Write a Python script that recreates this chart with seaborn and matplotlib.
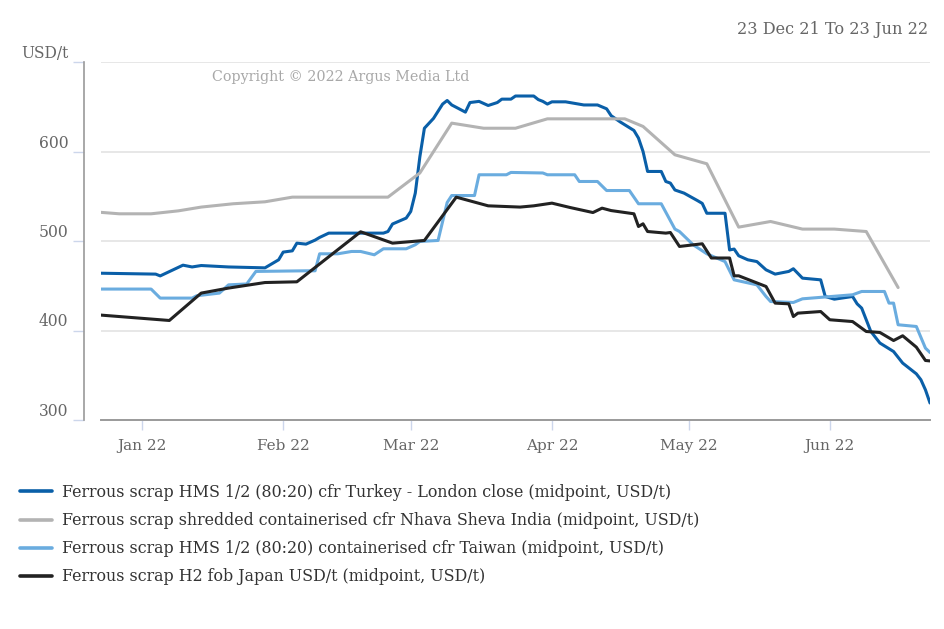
import matplotlib
matplotlib.use("Agg")
import matplotlib.pyplot as plt
import matplotlib.dates as mdates
from matplotlib.lines import Line2D
import seaborn as sns
import pandas as pd

# ---------------- data ----------------
turkey_dates = ["2021-12-23", "2022-01-04", "2022-01-05", "2022-01-10", "2022-01-12", "2022-01-14",
                "2022-01-20", "2022-01-28", "2022-01-31", "2022-02-01", "2022-02-03", "2022-02-04",
                "2022-02-06", "2022-02-08", "2022-02-09", "2022-02-11", "2022-02-23", "2022-02-24",
                "2022-02-25", "2022-02-28", "2022-03-01", "2022-03-02", "2022-03-03", "2022-03-04",
                "2022-03-06", "2022-03-08", "2022-03-09", "2022-03-10", "2022-03-13", "2022-03-14",
                "2022-03-16", "2022-03-18", "2022-03-20", "2022-03-21", "2022-03-23", "2022-03-24",
                "2022-03-28", "2022-03-29", "2022-03-30", "2022-03-31", "2022-04-01", "2022-04-04",
                "2022-04-08", "2022-04-11", "2022-04-13", "2022-04-14", "2022-04-16", "2022-04-19",
                "2022-04-20", "2022-04-21", "2022-04-22", "2022-04-25", "2022-04-26", "2022-04-27",
                "2022-04-28", "2022-04-30", "2022-05-03", "2022-05-04", "2022-05-05", "2022-05-09",
                "2022-05-10", "2022-05-11", "2022-05-12", "2022-05-14", "2022-05-16", "2022-05-18",
                "2022-05-20", "2022-05-23", "2022-05-24", "2022-05-26", "2022-05-30", "2022-05-31",
                "2022-06-02", "2022-06-06", "2022-06-07", "2022-06-08", "2022-06-09", "2022-06-10",
                "2022-06-12", "2022-06-15", "2022-06-17", "2022-06-20", "2022-06-21", "2022-06-22",
                "2022-06-23"]
turkey_vals = [464, 463, 461, 473, 471, 472.6,
               471, 470, 479, 487.6, 489, 497.6,
               496.5, 501, 504, 508.8, 508.8, 510.6,
               519, 525.6, 533, 553.5, 594, 626,
               637, 653, 657, 652, 644, 654.7,
               656, 651.4, 654.7, 658.5, 658.5, 662,
               662, 658, 656, 653, 655.5, 655.5,
               652, 652, 647.7, 640, 633, 623.5,
               615, 600, 577.7, 577.7, 566.5, 564.7,
               557, 553.5, 545, 542, 531, 531,
               490, 491, 483.5, 479, 477, 467.8,
               463, 466, 469, 458.5, 456.6, 438,
               435, 438, 429.8, 425, 412, 399,
               386, 376.5, 363.6, 351.6, 345, 333.7,
               319]

india_dates = ["2021-12-23", "2021-12-27", "2022-01-03", "2022-01-09", "2022-01-14", "2022-01-21",
               "2022-01-28", "2022-02-03", "2022-02-24", "2022-03-03", "2022-03-10", "2022-03-17",
               "2022-03-24", "2022-03-31", "2022-04-17", "2022-04-21", "2022-04-28", "2022-05-05",
               "2022-05-12", "2022-05-19", "2022-05-26", "2022-06-02", "2022-06-09", "2022-06-16"]
india_vals = [532, 530.4, 530.4, 533.7, 537.9, 541.6,
              543.8, 549, 549, 576, 631.7, 626,
              626, 636.5, 636.5, 628, 596.3, 586.3,
              515.5, 521.8, 513.3, 513.3, 510.6, 448]

taiwan_dates = ["2021-12-23", "2022-01-03", "2022-01-05", "2022-01-12", "2022-01-13", "2022-01-18",
                "2022-01-20", "2022-01-24", "2022-01-26", "2022-02-06", "2022-02-08", "2022-02-09",
                "2022-02-13", "2022-02-16", "2022-02-18", "2022-02-21", "2022-02-23", "2022-02-28",
                "2022-03-02", "2022-03-03", "2022-03-07", "2022-03-09", "2022-03-10", "2022-03-15",
                "2022-03-16", "2022-03-22", "2022-03-23", "2022-03-30", "2022-03-31", "2022-04-06",
                "2022-04-07", "2022-04-11", "2022-04-13", "2022-04-18", "2022-04-20", "2022-04-25",
                "2022-04-28", "2022-04-29", "2022-05-02", "2022-05-05", "2022-05-09", "2022-05-11",
                "2022-05-16", "2022-05-18", "2022-05-19", "2022-05-24", "2022-05-26", "2022-06-06",
                "2022-06-08", "2022-06-13", "2022-06-14", "2022-06-15", "2022-06-16", "2022-06-20",
                "2022-06-22", "2022-06-23"]
taiwan_vals = [446.3, 446.3, 436.2, 436.2, 438.8, 441.8,
               451, 452, 466, 466.7, 466.7, 485.7,
               485.7, 488.3, 488.3, 484.6, 491.3, 491.3,
               495.8, 499.5, 500.6, 543, 550.8, 550.8,
               574, 574, 576.6, 576, 574, 574,
               566.5, 566.5, 556.4, 556.4, 541.6, 541.6,
               513.3, 510.6, 495.8, 485.7, 477, 456.6,
               451, 438, 432.4, 431.3, 435.4, 439.9,
               443.6, 443.6, 430.6, 430.6, 406.4, 404.5,
               380.3, 375.4]

japan_dates = ["2021-12-23", "2022-01-07", "2022-01-14", "2022-01-20", "2022-01-28", "2022-02-04",
               "2022-02-18", "2022-02-25", "2022-03-04", "2022-03-11", "2022-03-18", "2022-03-25",
               "2022-03-28", "2022-04-01", "2022-04-05", "2022-04-10", "2022-04-12", "2022-04-14",
               "2022-04-19", "2022-04-20", "2022-04-21", "2022-04-22", "2022-04-26", "2022-04-27",
               "2022-04-29", "2022-05-04", "2022-05-06", "2022-05-10", "2022-05-11", "2022-05-12",
               "2022-05-18", "2022-05-20", "2022-05-23", "2022-05-24", "2022-05-25", "2022-05-30",
               "2022-06-01", "2022-06-06", "2022-06-09", "2022-06-12", "2022-06-15", "2022-06-17",
               "2022-06-20", "2022-06-22", "2022-06-23"]
japan_vals = [417.2, 411.2, 441.8, 447.4, 453.6, 454.4,
              510.3, 497.6, 500.6, 549, 539.3, 537.9,
              539.3, 542.3, 537.4, 531.8, 536.7, 534,
              530.4, 516.2, 519.2, 510.6, 508.8, 509.5,
              493.9, 496.9, 481, 481, 461.1, 461.1,
              449.2, 430.6, 429.8, 415.6, 419.4, 421.2,
              412, 410, 398.9, 397.8, 388.8, 394.1,
              381.4, 366.5, 366]

series_names = [
    "Ferrous scrap HMS 1/2 (80:20) cfr Turkey - London close (midpoint, USD/t)",
    "Ferrous scrap shredded containerised cfr Nhava Sheva India (midpoint, USD/t)",
    "Ferrous scrap HMS 1/2 (80:20) containerised cfr Taiwan (midpoint, USD/t)",
    "Ferrous scrap H2 fob Japan USD/t (midpoint, USD/t)",
]
y_ticks = [300, 400, 500, 600, 700]
y_tick_labels = ["300", "400", "500", "600", "USD/t"]
month_ticks = ["2022-01-01", "2022-02-01", "2022-03-01", "2022-04-01", "2022-05-01", "2022-06-01"]
title_text = "23 Dec 21 To 23 Jun 22"
copyright_text = "Copyright \u00a9 2022 Argus Media Ltd"

colors = ["#0a5fa8", "#b3b3b3", "#6aacdf", "#222222"]

# ---------------- build frame ----------------
frames = []
for name, d, v in zip(series_names,
                      [turkey_dates, india_dates, taiwan_dates, japan_dates],
                      [turkey_vals, india_vals, taiwan_vals, japan_vals]):
    frames.append(pd.DataFrame({"date": pd.to_datetime(d), "value": v, "series": name}))
df = pd.concat(frames, ignore_index=True)

# ---------------- plot ----------------
sns.set_style("white")
plt.rcParams["font.family"] = ["DejaVu Serif"]

fig = plt.figure(figsize=(9.45, 6.29), dpi=100)
ax = fig.add_axes([101 / 945, (629 - 420) / 629, 829 / 945, 358 / 629])

sns.lineplot(data=df, x="date", y="value", hue="series", hue_order=series_names,
             palette=colors, estimator=None, linewidth=2.2, ax=ax, legend=False)

ax.set_xlim(pd.Timestamp("2021-12-23"), pd.Timestamp("2022-06-23"))
ax.set_ylim(300, 700)
ax.set_xlabel("")
ax.set_ylabel("")

# grid
for yv in y_ticks[1:]:
    ax.axhline(yv, color="#e0e0e0", lw=1.1, zorder=0)

# spines
for s in ["top", "right"]:
    ax.spines[s].set_visible(False)
ax.spines["bottom"].set_color("#9a9a9a")
ax.spines["bottom"].set_linewidth(1.4)
ax.spines["left"].set_color("#9a9a9a")
ax.spines["left"].set_linewidth(1.2)
ax.spines["left"].set_position(("outward", 12.2))

# y ticks
ax.set_yticks(y_ticks)
ax.set_yticklabels(y_tick_labels, va="bottom")
ax.tick_params(axis="y", length=8, width=1, color="#ccd6eb", pad=3.2,
               labelsize=11.2, labelcolor="#666666", left=True)

# x ticks
ax.set_xticks(pd.to_datetime(month_ticks))
ax.xaxis.set_major_formatter(mdates.DateFormatter("%b %y"))
ax.tick_params(axis="x", length=7.5, width=1, color="#ccd6eb", pad=6,
               labelsize=11, labelcolor="#666666", bottom=True)

# texts
fig.text(928 / 945, 1 - 30 / 629, title_text, ha="right", va="center",
         fontsize=11.6, color="#666666")
fig.text(212 / 945, 1 - 77 / 629, copyright_text, ha="left", va="center",
         fontsize=10.3, color="#a8a8a8")

# legend
handles = [Line2D([0], [0], color=c, lw=2.6) for c in colors]
fig.legend(handles, series_names, loc="upper left",
           bbox_to_anchor=(20 / 945, 1 - 484 / 629), frameon=False,
           fontsize=11.4, handlelength=2.0, handletextpad=0.63,
           labelspacing=0.7, borderpad=0, borderaxespad=0,
           labelcolor="#333333")

fig.savefig("out.png", dpi=100, facecolor="white")
